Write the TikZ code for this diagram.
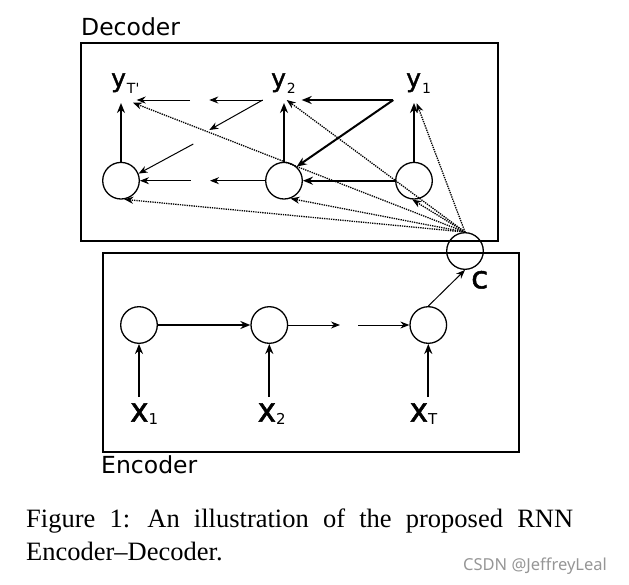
\documentclass[tikz,border=0pt]{standalone}
\usepackage{fontspec}
\setmainfont{Liberation Serif}
\newfontfamily\dejavu{DejaVu Sans}
\newfontfamily\dvheavy[FakeBold=1.6]{DejaVu Sans}
\newfontfamily\wmfont{Noto Sans}
\usetikzlibrary{arrows.meta}
\definecolor{wmgray}{RGB}{150,150,150}
\newcommand\ylab[1]{{\dvheavy\fontsize{25}{25}\selectfont y}\kern1pt\raisebox{-6pt}{\fontsize{14}{14}\selectfont #1}}
\newcommand\xlab[1]{\scalebox{1}[1.08]{\dvheavy\fontsize{31}{31}\selectfont x}\raisebox{-2.5pt}{\fontsize{15}{15}\selectfont #1}}
\begin{document}
\begin{tikzpicture}[x=1pt,y=-1pt,
  unit/.style={circle,draw,line width=1.3pt,minimum size=36.6pt,inner sep=0pt},
  frame/.style={draw,line width=2.4pt,inner sep=0pt},
  thickarr/.style={line width=2pt,-{Stealth[length=10pt,width=8pt]}},
  thinarr/.style={line width=1pt,-{Stealth[length=9pt,width=7pt]}},
  dotarr/.style={line width=1.3pt,densely dotted,-{Stealth[length=9pt,width=7pt]}},
  lab/.style={font=\dejavu,anchor=base west,inner sep=0pt},
  title/.style={font=\dejavu\fontsize{23.5}{23.5}\selectfont,anchor=base west,inner sep=0pt}
]
\useasboundingbox (0,0) rectangle (629,584);
% frames
\node[frame,minimum width=417pt,minimum height=198pt] (decbox) at (289.5,142) {};
\node[frame,minimum width=416pt,minimum height=199pt] (encbox) at (311,352.5) {};
\node[title] (dectitle) at (81,35) {Decoder};
\node[title] (enctitle) at (101,473) {Encoder};
% encoder units
\node[unit] (e1) at (139,325) {};
\node[unit] (e2) at (269.3,325) {};
\node[unit] (e3) at (428.3,325) {};
\node[unit] (C) at (465,251) {};
\node[lab] (clab) at (471,288.3) {\dvheavy\fontsize{31}{31}\selectfont c};
% inputs
\node[lab] (x1) at (130,421.7) {\xlab{1}};
\node[lab] (x2) at (257.5,421.7) {\xlab{2}};
\node[lab] (xT) at (409.5,421.7) {\xlab{T}};
% decoder units
\node[unit] (d1) at (121,180.7) {};
\node[unit] (d2) at (284,180.7) {};
\node[unit] (d3) at (414,180.7) {};
% outputs
\node[lab] (yT) at (111,87) {\ylab{T'}};
\node[lab] (y2) at (271,87) {\ylab{2}};
\node[lab] (y1) at (406,87) {\ylab{1}};
% helper coordinates
\coordinate (ea) at (340,325);
\coordinate (eb) at (358,325);
\coordinate (xa1) at (139,397);
\coordinate (xa2) at (269.3,397);
\coordinate (xa3) at (428.3,397);
\coordinate (ytip1) at (121,103);
\coordinate (ytip2) at (284,103);
\coordinate (ytip3) at (414,103);
\coordinate (ta) at (393.3,100);
\coordinate (tb) at (301.7,100);
\coordinate (tc) at (262.7,100);
\coordinate (td) at (209.3,100);
\coordinate (te) at (190,100);
\coordinate (tf) at (136.7,100);
\coordinate (ga) at (209.3,130);
\coordinate (gb) at (193.3,144);
\coordinate (ba) at (210,180.7);
\coordinate (bb) at (190.7,180.7);
\coordinate (dy1) at (133,102.7);
\coordinate (dy2) at (286.7,100);
\coordinate (dy3) at (416.7,103.3);
% encoder connections
\draw[thickarr] (xa1) -- (e1);
\draw[thickarr] (xa2) -- (e2);
\draw[thickarr] (xa3) -- (e3);
\draw[thickarr] (e1) -- (e2);
\draw[thinarr] (e2) -- (ea);
\draw[thinarr] (eb) -- (e3);
\draw[thinarr] (e3.north) -- (C.south);
% decoder connections
\draw[thickarr] (d1) -- (ytip1);
\draw[thickarr] (d2) -- (ytip2);
\draw[thickarr] (d3) -- (ytip3);
\draw[thickarr] (ta) -- (tb);
\draw[thinarr] (tc) -- (td);
\draw[thinarr] (te) -- (tf);
\draw[thickarr] (ta) -- (d2.48);
\draw[thinarr] (tc) -- (ga);
\draw[thinarr] (gb) -- (d1.22);
\draw[thickarr] (d3) -- (d2);
\draw[thinarr] (d2) -- (ba);
\draw[thinarr] (bb) -- (d1);
% context connections
\draw[dotarr] (C.north) -- (dy1);
\draw[dotarr] (C.north) -- (dy2);
\draw[dotarr] (C.north) -- (dy3);
\draw[dotarr] (C.north) -- (d1.-80);
\draw[dotarr] (C.north) -- (d2.-70);
\draw[dotarr] (C.north) -- (d3.-95);
% caption
\node[anchor=base west,inner sep=0pt] (cap1) at (26,527) {\fontsize{26.5}{26.5}\selectfont\makebox[547pt][s]{Figure 1:\ \hspace{3pt}An illustration of the proposed RNN}};
\node[anchor=base west,inner sep=0pt] (cap2) at (26,560) {\fontsize{26.5}{26.5}\selectfont Encoder--Decoder.};
\node[anchor=base west,inner sep=0pt,text=wmgray,font=\wmfont\fontsize{16.5}{16.5}\selectfont] (wm) at (463,570) {CSDN @JeffreyLeal};
\end{tikzpicture}
\end{document}
